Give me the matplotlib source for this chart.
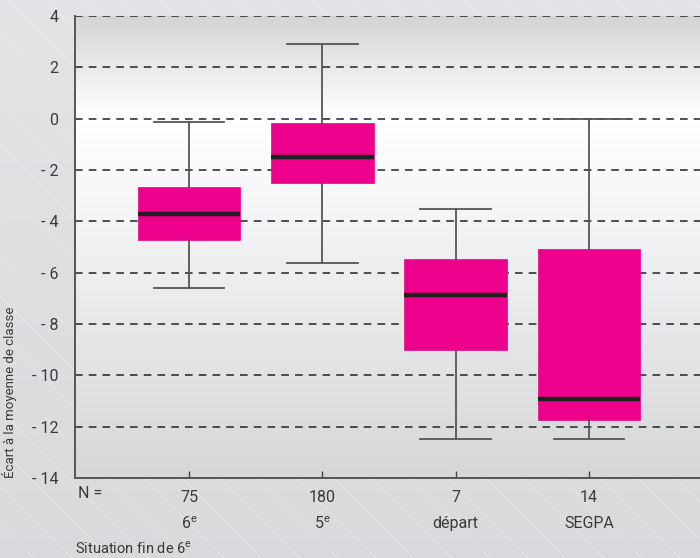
import numpy as np
import matplotlib.pyplot as plt

plt.rcParams['font.family'] = ['Roboto', 'DejaVu Sans']
plt.rcParams['mathtext.fontset'] = 'custom'
plt.rcParams['mathtext.rm'] = 'Roboto'

# Box statistics per group
groups = ['6$^{\\rm e}$', '5$^{\\rm e}$', 'départ', 'SEGPA']
counts = [75, 180, 7, 14]
q1 = [-4.71, -2.49, -9.0, -11.73]
med = [-3.70, -1.48, -6.86, -10.91]
q3 = [-2.65, -0.16, -5.45, -5.06]
whislo = [-6.58, -5.61, -12.47, -12.47]
whishi = [-0.12, 2.92, -3.51, 0.0]

yticks = [4, 2, 0, -2, -4, -6, -8, -10, -12, -14]
text_col = '#3a3a3a'
magenta = '#ec008c'

fig = plt.figure(figsize=(7, 5.58), dpi=100)

# figure background with faint diagonal hatching
bg = fig.add_axes([0, 0, 1, 1], zorder=-10)
bg.set_xlim(0, 700)
bg.set_ylim(558, 0)
bg.axis('off')
grad = np.linspace(0.89, 0.85, 100).reshape(-1, 1)
bg.imshow(np.dstack([grad, grad + 0.004, grad + 0.012]), extent=[0, 700, 558, 0],
          aspect='auto')
for x0 in range(-600, 700, 38):
    bg.plot([x0, x0 + 700], [0, 700], color='white', lw=0.6, alpha=0.35)

ax = fig.add_axes([75 / 700, 1 - 478 / 558, 628 / 700, 462 / 558])

# vertical gradient inside the plot area
ys = np.linspace(4, -14, 300)
shade = np.interp(ys, [-14, 0, 4], [0.84, 1.0, 0.83])
img = np.dstack([shade, shade + 0.002, shade + 0.01]).reshape(-1, 1, 3)
ax.imshow(np.clip(img, 0, 1), extent=[0.143, 4.857, -14, 4], aspect='auto', zorder=0)

stats = []
for i in range(len(groups)):
    stats.append(dict(med=med[i], q1=q1[i], q3=q3[i], whislo=whislo[i],
                      whishi=whishi[i], fliers=[]))

ax.bxp(stats, positions=[1, 2, 3, 4], widths=0.77, patch_artist=True,
       showfliers=False,
       boxprops=dict(facecolor=magenta, edgecolor=magenta, lw=0.5),
       medianprops=dict(color='#231f20', lw=3.2),
       whiskerprops=dict(color='#555555', lw=1.3),
       capprops=dict(color='#555555', lw=1.3),
       capwidths=0.53, zorder=3)

for y in [4, 2, 0, -2, -4, -6, -8, -10, -12]:
    ax.axhline(y, color='#222222', lw=1.1, ls=(0, (5, 4)), zorder=2)

ax.set_xlim(0.143, 4.857)
ax.set_ylim(-14, 4)
ax.set_yticks(yticks)
ax.set_yticklabels([str(v) if v >= 0 else '- ' + str(-v) for v in yticks],
                   fontsize=11.5, color=text_col)
ax.tick_params(axis='y', length=0, pad=12)
ax.set_xticks([1, 2, 3, 4])
ax.set_xticklabels([str(n) for n in counts], fontsize=11.5, color=text_col)
ax.tick_params(axis='x', direction='in', length=5, width=1, color='#444444', pad=9)

for side in ['top', 'right']:
    ax.spines[side].set_visible(False)
for side in ['left', 'bottom']:
    ax.spines[side].set_color('#555555')
    ax.spines[side].set_linewidth(1.4)

for i, g in enumerate(groups):
    ax.annotate(g, xy=(i + 1, 0), xycoords=('data', 'axes fraction'),
                xytext=(0, -33), textcoords='offset points', ha='center',
                va='center', fontsize=11.5, color=text_col)

fig.text(78 / 700, 1 - 494 / 558, 'N =', fontsize=11.5, color=text_col,
         ha='left', va='center')
fig.text(75 / 700, 1 - 548 / 558, 'Situation fin de 6$^{\\rm e}$', fontsize=10.5,
         color=text_col, ha='left', va='center')
fig.text(10 / 700, 1 - 478 / 558, 'Écart à la moyenne de classe', fontsize=9.5,
         color=text_col, rotation=90, ha='center', va='bottom')

fig.savefig('out.png', dpi=100)
